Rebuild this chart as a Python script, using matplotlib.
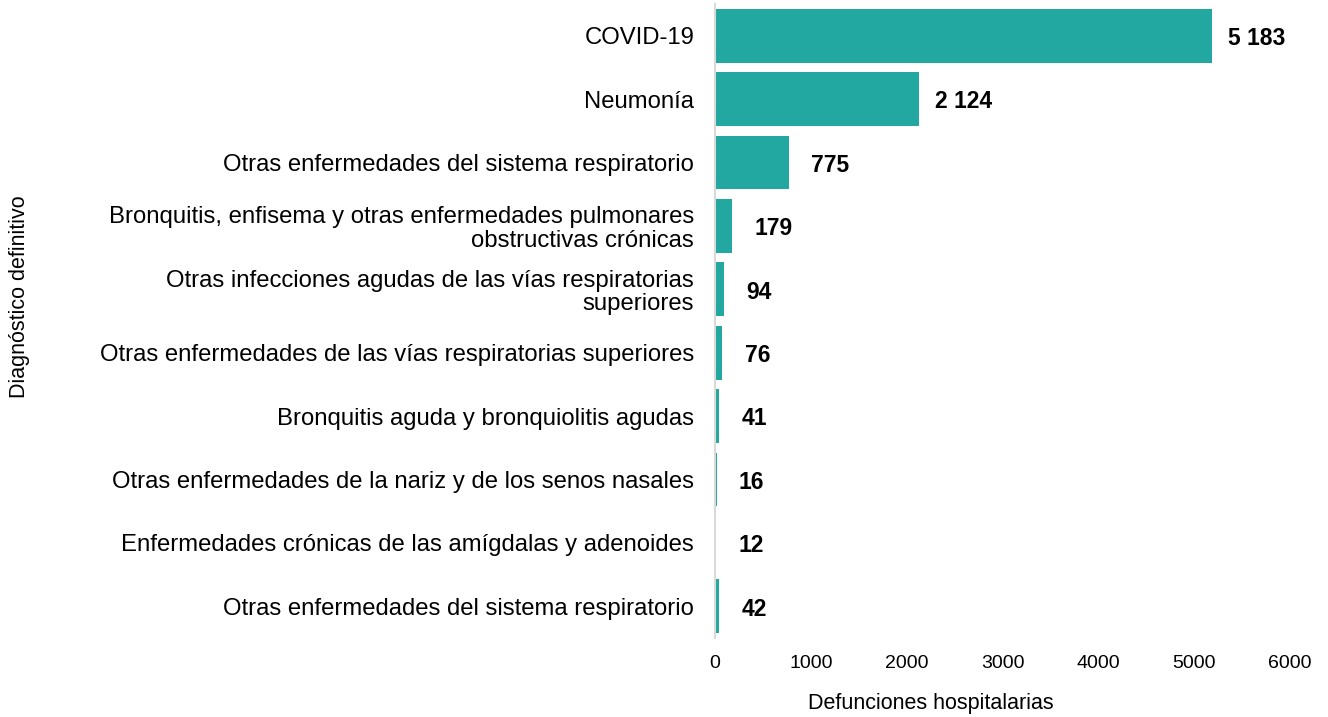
import matplotlib
matplotlib.use('Agg')
import matplotlib.pyplot as plt

# data (top to bottom as shown)
diagnosticos = ['COVID-19',
                'Neumonía',
                'Otras enfermedades del sistema respiratorio',
                'Bronquitis, enfisema y otras enfermedades pulmonares\nobstructivas crónicas',
                'Otras infecciones agudas de las vías respiratorias\nsuperiores',
                'Otras enfermedades de las vías respiratorias superiores',
                'Bronquitis aguda y bronquiolitis agudas',
                'Otras enfermedades de la nariz y de los senos nasales',
                'Enfermedades crónicas de las amígdalas y adenoides',
                'Otras enfermedades del sistema respiratorio']
defunciones = [5183, 2124, 775, 179, 94, 76, 41, 16, 12, 42]
xticks = [0, 1000, 2000, 3000, 4000, 5000, 6000]

plt.rcParams['font.family'] = ['Liberation Sans', 'DejaVu Sans']

fig = plt.figure(figsize=(13.28, 7.17), dpi=100)
ax = fig.add_axes([715/1328, 1-638/717, (1290-715)/1328, (638-4)/717])

pos = list(range(len(diagnosticos)))
ax.barh(pos, defunciones, height=0.85, color='#23A7A1')
ax.set_ylim(len(diagnosticos)-0.5, -0.5)
ax.set_xlim(0, 6000)

# value labels, bold, to the right of each bar
for p, v in zip(pos, defunciones):
    txt = '{:,}'.format(v).replace(',', ' ')
    ax.annotate(txt, (v, p), xytext=(12 if v >= 1000 else 16, -2), textcoords='offset points',
                ha='left', va='center', fontsize=16.5, fontweight='bold', color='black')

ax.set_yticks(pos)
ax.set_yticklabels(diagnosticos, fontsize=17.2, linespacing=1.08, ha='right')
ax.set_xticks(xticks)
ax.set_xticklabels([str(t) for t in xticks], fontsize=14)
ax.tick_params(axis='y', length=0, pad=15)
ax.tick_params(axis='x', length=0, pad=12)

for s in ['top', 'right', 'bottom']:
    ax.spines[s].set_visible(False)
ax.spines['left'].set_color('#D9D9D9')
ax.spines['left'].set_linewidth(1.5)

ax.set_xlabel('Defunciones hospitalarias', fontsize=15.5)
ax.xaxis.set_label_coords((931-715)/575, -(703-638)/634)
ax.xaxis.label.set_va('center')
fig.text(20/1328, 1-297/717, 'Diagnóstico definitivo', rotation=90, fontsize=15.5,
         ha='center', va='center')

fig.savefig('out.png', dpi=100)
